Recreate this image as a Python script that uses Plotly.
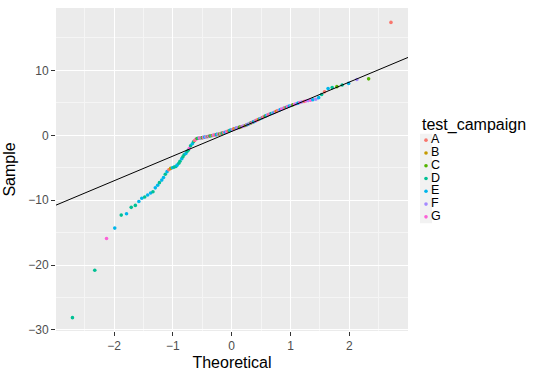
import plotly.graph_objects as go

# ---------------- data ----------------
campaigns = ["A", "B", "C", "D", "E", "F", "G"]
campaign_colors = ["#F8766D", "#C49A00", "#53B400", "#00C094", "#00B6EB", "#A58AFF", "#FB61D7"]

theoretical = [
    -2.71, -2.33, -2.13, -1.99, -1.88, -1.79, -1.71, -1.64, -1.58, -1.53,
    -1.48, -1.43, -1.38, -1.34, -1.30, -1.26, -1.23, -1.19, -1.16, -1.13,
    -1.10, -1.07, -1.04, -1.01, -0.98, -0.95, -0.93, -0.90, -0.88, -0.85,
    -0.83, -0.81, -0.78, -0.76, -0.74, -0.72, -0.70, -0.67, -0.65, -0.63,
    -0.61, -0.59, -0.57, -0.55, -0.53, -0.52, -0.50, -0.48, -0.46, -0.44,
    -0.42, -0.40, -0.39, -0.37, -0.35, -0.33, -0.31, -0.30, -0.28, -0.26,
    -0.25, -0.23, -0.21, -0.19, -0.18, -0.16, -0.14, -0.13, -0.11, -0.09,
    -0.08, -0.06, -0.04, -0.03, -0.01, 0.01, 0.03, 0.04, 0.06, 0.08,
    0.09, 0.11, 0.13, 0.14, 0.16, 0.18, 0.19, 0.21, 0.23, 0.25,
    0.26, 0.28, 0.30, 0.31, 0.33, 0.35, 0.37, 0.39, 0.40, 0.42,
    0.44, 0.46, 0.48, 0.50, 0.52, 0.53, 0.55, 0.57, 0.59, 0.61,
    0.63, 0.65, 0.67, 0.70, 0.72, 0.74, 0.76, 0.78, 0.81, 0.83,
    0.85, 0.88, 0.90, 0.93, 0.95, 0.98, 1.01, 1.04, 1.07, 1.10,
    1.13, 1.16, 1.19, 1.23, 1.26, 1.30, 1.34, 1.38, 1.43, 1.48,
    1.53, 1.58, 1.64, 1.71, 1.79, 1.88, 1.99, 2.13, 2.33, 2.71,
]

sample = [
    -28.1, -20.8, -15.9, -14.3, -12.3, -12.1, -11.1, -10.8, -10.2, -9.7,
    -9.5, -9.2, -8.9, -8.7, -8.1, -7.7, -7.3, -6.9, -6.5, -6.0,
    -5.6, -5.3, -5.1, -5.0, -4.9, -4.8, -4.6, -4.3, -4.0, -3.6,
    -3.3, -3.0, -2.8, -2.5, -2.3, -2.0, -1.6, -1.3, -1.0, -0.8,
    -0.6, -0.5, -0.45, -0.43, -0.42, -0.40, -0.36, -0.32, -0.28, -0.25,
    -0.22, -0.18, -0.15, -0.11, -0.08, -0.04, 0.0, 0.03, 0.07, 0.10,
    0.14, 0.17, 0.21, 0.25, 0.29, 0.33, 0.38, 0.43, 0.48, 0.53,
    0.58, 0.64, 0.70, 0.76, 0.82, 0.88, 0.95, 1.00, 1.05, 1.10,
    1.14, 1.18, 1.22, 1.26, 1.30, 1.35, 1.40, 1.46, 1.52, 1.58,
    1.64, 1.71, 1.78, 1.85, 1.92, 2.00, 2.07, 2.14, 2.21, 2.30,
    2.38, 2.46, 2.55, 2.63, 2.71, 2.79, 2.87, 2.95, 3.03, 3.11,
    3.19, 3.27, 3.35, 3.43, 3.52, 3.61, 3.70, 3.79, 3.88, 3.97,
    4.06, 4.15, 4.24, 4.33, 4.42, 4.51, 4.60, 4.69, 4.78, 4.87,
    4.96, 5.05, 5.13, 5.21, 5.28, 5.35, 5.42, 5.48, 5.55, 5.8,
    6.3, 6.7, 7.2, 7.35, 7.5, 7.75, 8.0, 8.6, 8.7, 17.4,
]

point_campaign = list("".join("""
DDGEDEDDEE DEEDEEDEED EABEDDEDDE DDEDDGDEDA GCDGAFCGEF
ADGCEBFGAD EGCFADBGEF GACEDFGBAE FGDCAEGFBD GEAFCGDEFA
GBEFDAGCEF AGDFEGBAFE GFADGEFCGF EGFAGFGEFE DAEDCDEFCA
""".split()))

line_intercept = 0.6
line_slope = 3.8

x_ticks = [-2, -1, 0, 1, 2]
x_minor = [-2.5, -1.5, -0.5, 0.5, 1.5, 2.5]
y_ticks = [-30, -20, -10, 0, 10]
y_minor = [-25, -15, -5, 5, 15]
x_range = [-2.99, 3.0]
y_range = [-30.16, 19.62]

# ---------------- figure ----------------
FONT = "Liberation Sans, Arial, sans-serif"
color_of = dict(zip(campaigns, campaign_colors))
fig = go.Figure()

# points in data order, coloured by campaign (mixed drawing order as in ggplot)
fig.add_trace(go.Scatter(
    x=theoretical, y=sample, mode="markers",
    marker=dict(color=[color_of[g] for g in point_campaign], size=3.6,
                line=dict(width=0)),
    customdata=point_campaign,
    showlegend=False, xaxis="x", yaxis="y", hoverinfo="skip"))

fig.add_trace(go.Scatter(
    x=x_range, y=[line_intercept + line_slope * v for v in x_range],
    mode="lines", line=dict(color="black", width=1),
    showlegend=False, xaxis="x", yaxis="y", hoverinfo="skip"))

# manual ggplot-style legend (keys on a hidden helper axis)
fig.add_trace(go.Scatter(
    x=[0] * len(campaigns), y=campaigns, mode="markers",
    marker=dict(color=campaign_colors, size=3.6, line=dict(width=0)),
    xaxis="x2", yaxis="y2", showlegend=False, hoverinfo="skip"))
fig.add_trace(go.Scatter(
    x=[5] * len(campaigns), y=campaigns, mode="text", text=campaigns,
    textposition="middle right",
    textfont=dict(family=FONT, size=12.5, color="black"),
    xaxis="x2", yaxis="y2", showlegend=False, hoverinfo="skip",
    cliponaxis=False))

main_w = 352 / 484

fig.update_layout(
    width=540, height=378,
    margin=dict(l=56, r=0, t=7.5, b=47, pad=0),
    paper_bgcolor="white", plot_bgcolor="rgba(0,0,0,0)",
    font=dict(family=FONT, color="black"),
    xaxis=dict(
        domain=[0, main_w], range=x_range, tickvals=x_ticks,
        ticks="outside", ticklen=4, tickwidth=1, tickcolor="#333333",
        tickfont=dict(size=12, color="#4D4D4D"),
        showgrid=True, gridcolor="white", gridwidth=1.1,
        zeroline=False, showline=False,
        minor=dict(tickvals=x_minor, showgrid=True, gridcolor="#F5F5F5",
                   gridwidth=0.6, ticks=""),
        title=dict(text="Theoretical", font=dict(size=16, color="black"), standoff=4),
        anchor="y",
    ),
    yaxis=dict(
        domain=[0, 1], range=y_range, tickvals=y_ticks,
        ticks="outside", ticklen=4, tickwidth=1, tickcolor="#333333",
        tickfont=dict(size=12, color="#4D4D4D"),
        showgrid=True, gridcolor="white", gridwidth=1.1,
        zeroline=False, showline=False,
        minor=dict(tickvals=y_minor, showgrid=True, gridcolor="#F5F5F5",
                   gridwidth=0.6, ticks=""),
        title=dict(text="Sample", font=dict(size=16, color="black"), standoff=8),
        anchor="x",
    ),
    xaxis2=dict(domain=[main_w, 1], range=[-18, 114], visible=False,
                anchor="y2", fixedrange=True),
    yaxis2=dict(domain=[0, 1], type="category", categoryorder="array",
                categoryarray=campaigns[::-1], range=[-8.93, 16.34],
                visible=False, anchor="x2", fixedrange=True),
    shapes=[
        dict(type="rect", xref="x domain", yref="y domain", x0=0, x1=1, y0=0, y1=1,
             fillcolor="#EBEBEB", line=dict(width=0), layer="below"),
        dict(type="rect", xref="x2", yref="y2", x0=-6, x1=6, y0=-0.5, y1=6.5,
             fillcolor="#F2F2F2", line=dict(width=0), layer="below"),
    ],
    annotations=[
        dict(text="test_campaign", xref="x2", yref="y2", x=-6, y=7.16,
             xanchor="left", yanchor="middle", showarrow=False,
             font=dict(family=FONT, size=16, color="black")),
    ],
)

fig.write_html("out.html",
               config={"displayModeBar": False},
               post_script="document.body.style.margin='0';")
